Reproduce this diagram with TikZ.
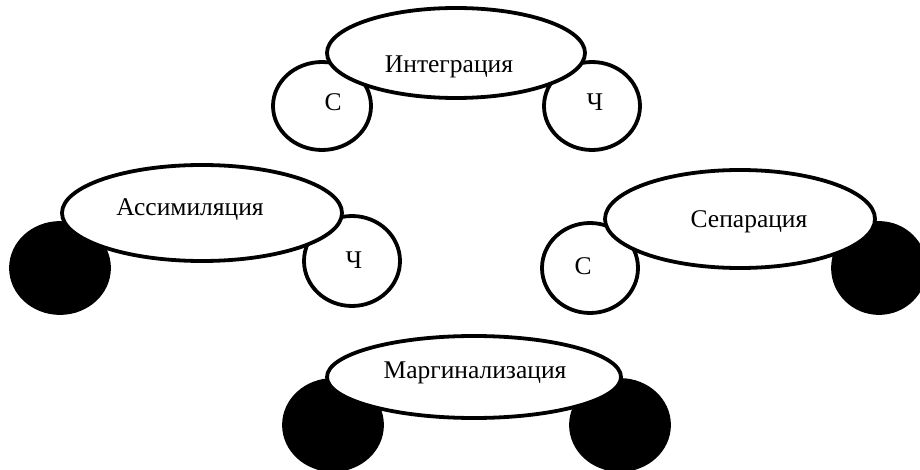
\documentclass[tikz,border=0pt]{standalone}
\usepackage{fontspec}
\setmainfont{Liberation Serif}
\begin{document}
\begin{tikzpicture}[x=1pt,y=-1pt,
  outl/.style={line width=3.8pt, draw=black},
  whitecirc/.style={outl, fill=white},
  blackcirc/.style={outl, fill=black},
  mainell/.style={outl, fill=white},
  lbl/.style={inner sep=0pt, anchor=base, font=\fontsize{25.5}{30}\selectfont}]
\useasboundingbox (0,0) rectangle (920,470);
% Integration
\draw[whitecirc] (322,106) ellipse [x radius=49pt, y radius=44pt];
\draw[whitecirc] (592,106) ellipse [x radius=48pt, y radius=44pt];
\draw[mainell] (456,53) ellipse [x radius=129pt, y radius=45pt];
\node[lbl] (integ) at (449,73) {Интеграция};
\node[lbl] (integS) at (333,111) {С};
\node[lbl] (integCh) at (595,111) {Ч};
% Assimilation
\draw[blackcirc] (60,268) ellipse [x radius=49pt, y radius=45pt];
\draw[whitecirc] (352,261) ellipse [x radius=48pt, y radius=45pt];
\draw[mainell] (202,213) ellipse [x radius=140pt, y radius=48pt];
\node[lbl] (assim) at (190,216) {Ассимиляция};
\node[lbl] (assimCh) at (354,269) {Ч};
% Separation
\draw[whitecirc] (590,268) ellipse [x radius=48pt, y radius=45pt];
\draw[blackcirc] (879,268) ellipse [x radius=46pt, y radius=45pt];
\draw[mainell] (740,219) ellipse [x radius=135pt, y radius=49pt];
\node[lbl] (separ) at (749,228) {Сепарация};
\node[lbl] (separS) at (583,274) {С};
% Marginalization
\draw[blackcirc] (333,425) ellipse [x radius=49pt, y radius=45pt];
\draw[blackcirc] (620,425) ellipse [x radius=49pt, y radius=45pt];
\draw[mainell] (474,377) ellipse [x radius=147pt, y radius=41pt];
\node[lbl] (marg) at (475,378) {Маргинализация};
\end{tikzpicture}
\end{document}
